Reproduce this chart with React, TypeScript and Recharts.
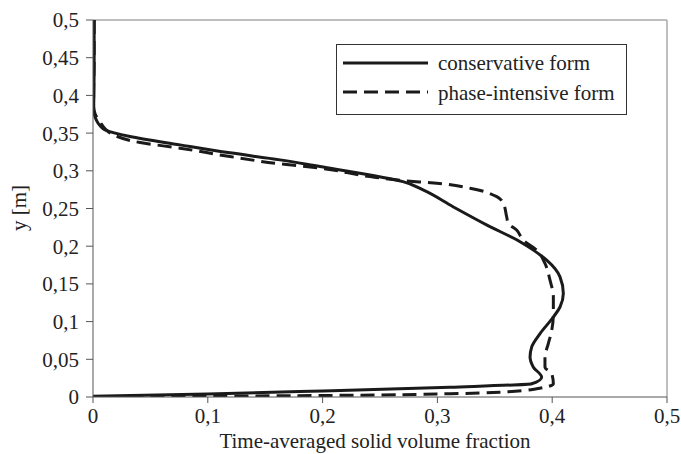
import React from 'react';
import { LineChart, Line, XAxis, YAxis, ReferenceLine, Legend, Label } from 'recharts';

const xTicks = [0, 0.1, 0.2, 0.3, 0.4, 0.5];
const yTicks = [0, 0.05, 0.1, 0.15, 0.2, 0.25, 0.3, 0.35, 0.4, 0.45, 0.5];
const seriesNames = ['conservative form', 'phase-intensive form'];
const xTitle = 'Time-averaged solid volume fraction';
const yTitle = 'y [m]';

const conservativeY = [0.5, 0.45, 0.4, 0.385, 0.375, 0.367, 0.36, 0.3544, 0.3455, 0.3344, 0.3238, 0.3145, 0.3056, 0.2945, 0.2856, 0.2746, 0.2524, 0.228, 0.2059, 0.1948, 0.1815, 0.1593, 0.1372, 0.1194, 0.1061, 0.084, 0.0662, 0.0529, 0.0396, 0.0263, 0.0176, 0.013, 0.008, 0.004, 0.001];
const conservativeX = [0.001, 0.001, 0.0008, 0.0006, 0.0012, 0.003, 0.006, 0.0105, 0.0322, 0.0758, 0.1193, 0.1629, 0.1977, 0.2413, 0.27, 0.2875, 0.3136, 0.3432, 0.372, 0.3836, 0.3952, 0.4068, 0.4097, 0.4068, 0.401, 0.3894, 0.3821, 0.3807, 0.3836, 0.3908, 0.3821, 0.311, 0.2, 0.1, 0];

const phaseY = [0.5, 0.45, 0.4, 0.385, 0.375, 0.365, 0.355, 0.3477, 0.3375, 0.33, 0.3189, 0.3092, 0.3035, 0.2923, 0.287, 0.2835, 0.2769, 0.2657, 0.2569, 0.2391, 0.2303, 0.2215, 0.2081, 0.1948, 0.1771, 0.1549, 0.1327, 0.1106, 0.0884, 0.0707, 0.0529, 0.0396, 0.0309, 0.0176, 0.0109, 0.0064, 0.0043, 0.002, 0.001, 0];
const phaseX = [0.001, 0.001, 0.0005, 0.0005, 0.002, 0.006, 0.011, 0.0177, 0.041, 0.0758, 0.1193, 0.1629, 0.1977, 0.2413, 0.27, 0.2994, 0.3284, 0.3517, 0.3574, 0.3603, 0.3618, 0.369, 0.3748, 0.3865, 0.3937, 0.3981, 0.401, 0.401, 0.3996, 0.3966, 0.3937, 0.3937, 0.3996, 0.401, 0.3865, 0.3545, 0.311, 0.2, 0.1, 0];

const conservativeData = conservativeY.map((y, i) => ({ x: conservativeX[i], y }));
const phaseData = phaseY.map((y, i) => ({ x: phaseX[i], y }));

const fmt = (v: number) => String(v).replace('.', ',');
const FONT = '"Liberation Serif", "Times New Roman", serif';
const TEXT = '#222';
const LINE = '#1a1a1a';
const DASH = '14 7';

const LegendBox = () => (
  <svg width={291} height={71} style={{ display: 'block' }}>
    <rect x={0.5} y={0.5} width={290} height={70} fill="#fff" stroke="#333" strokeWidth={1} />
    <line x1={7} x2={92} y1={19} y2={19} stroke={LINE} strokeWidth={3} />
    <text x={102} y={19} dominantBaseline="central" fontFamily={FONT} fontSize={21} fill={TEXT}>{seriesNames[0]}</text>
    <line x1={7} x2={92} y1={48} y2={48} stroke={LINE} strokeWidth={3} strokeDasharray={DASH} />
    <text x={102} y={49} dominantBaseline="central" fontFamily={FONT} fontSize={21} fill={TEXT}>{seriesNames[1]}</text>
  </svg>
);

export default function App() {
  return (
    <div style={{ position: 'absolute', left: 0, top: 0, width: 681, height: 454, overflow: 'hidden', background: '#fff' }}>
      <LineChart width={681} height={454} margin={{ top: 20, right: 14, bottom: 0, left: 0 }}>
        <XAxis
          type="number"
          dataKey="x"
          domain={[0, 0.5]}
          ticks={xTicks}
          tickFormatter={fmt}
          height={57}
          tickSize={6}
          tickMargin={5}
          stroke="#555"
          tick={{ fill: TEXT, fontSize: 21, fontFamily: FONT }}
          allowDataOverflow
        >
          <Label
            content={() => (
              <text x={375} y={448} textAnchor="middle" fontFamily={FONT} fontSize={21} fill={TEXT}>{xTitle}</text>
            )}
          />
        </XAxis>
        <YAxis
          type="number"
          domain={[0, 0.5]}
          ticks={yTicks}
          tickFormatter={fmt}
          width={93}
          tickSize={7}
          tickMargin={7}
          stroke="#555"
          tick={{ fill: TEXT, fontSize: 21, fontFamily: FONT }}
          allowDataOverflow
        >
          <Label
            content={() => (
              <text transform="translate(19,208) rotate(-90)" textAnchor="middle" dominantBaseline="central" fontFamily={FONT} fontSize={21} fill={TEXT}>{yTitle}</text>
            )}
          />
        </YAxis>
        <ReferenceLine y={0.5} stroke="#a8a8a8" strokeWidth={1.5} />
        <ReferenceLine x={0.5} stroke="#a8a8a8" strokeWidth={1.5} />
        <Legend
          layout="vertical"
          align="center"
          verticalAlign="middle"
          wrapperStyle={{ position: 'absolute', left: 336, top: 44, width: 291, height: 71 }}
          content={() => <LegendBox />}
        />
        <Line
          data={phaseData}
          dataKey="y"
          name={seriesNames[1]}
          type="monotoneY"
          stroke={LINE}
          strokeWidth={3}
          strokeDasharray={DASH}
          dot={false}
          activeDot={false}
          isAnimationActive={false}
        />
        <Line
          data={conservativeData}
          dataKey="y"
          name={seriesNames[0]}
          type="monotoneY"
          stroke={LINE}
          strokeWidth={3}
          dot={false}
          activeDot={false}
          isAnimationActive={false}
        />
      </LineChart>
    </div>
  );
}
